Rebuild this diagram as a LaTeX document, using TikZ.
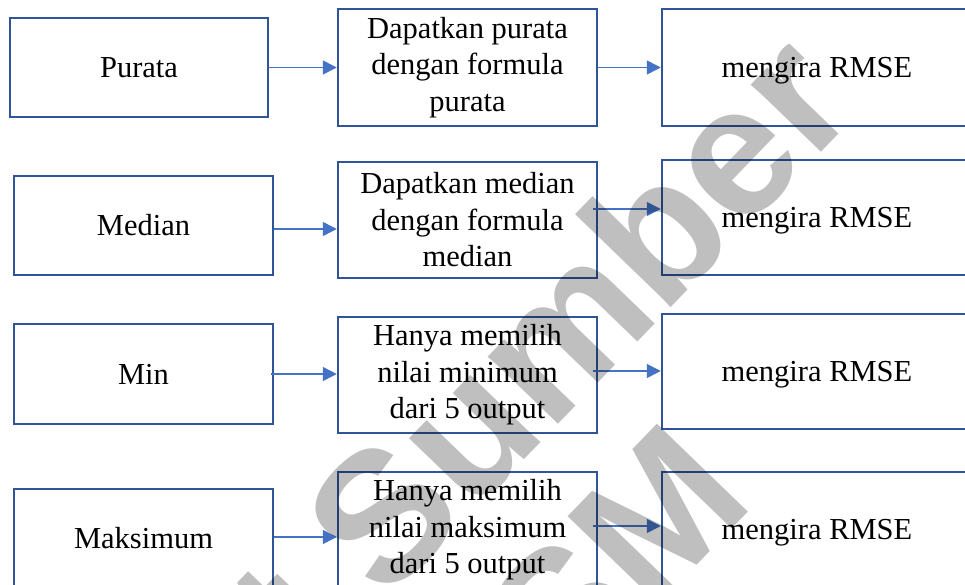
\documentclass[tikz,border=0pt]{standalone}
\usepackage{fontspec}
\setmainfont{Liberation Serif}
\newfontfamily\marksans{Liberation Sans}
\usetikzlibrary{arrows.meta}
\definecolor{boxblue}{RGB}{47,85,151}
\definecolor{arrowblue}{RGB}{68,114,196}

\begin{document}
\begin{tikzpicture}[x=1pt,y=-1pt,
  box/.style={draw=boxblue, line width=2.5pt, inner sep=0pt, align=center,
    font=\fontsize{30.5}{36.5}\selectfont, text=black},
  leftbox/.style={box, minimum width=259, minimum height=99},
  midbox/.style={box, minimum width=259, minimum height=116},
  rmsebox/.style={box, minimum width=310, minimum height=115, text depth=0pt},
  arr/.style={draw=arrowblue, line width=1.5pt, -{Triangle[length=14pt,width=14pt]}},
  wm/.style={font=\marksans\bfseries\fontsize{184}{184}\selectfont, text=black,
    text opacity=0.25, rotate=46, inner sep=0pt}
]
\useasboundingbox (0,0) rectangle (965,585);
\begin{scope}
\clip (0,0) rectangle (965,585);
\fill[white] (0,0) rectangle (965,585);

% row 1
\node[leftbox, minimum width=258] (p1) at (139,67.5) {Purata};
\node[midbox, minimum height=117] (m1) at (467.5,67.5) {Dapatkan purata\\dengan formula\\purata};
\node[rmsebox, minimum height=117] (r1) at (817,67.5) {mengira RMSE};

% row 2
\node[leftbox] (p2) at (143.5,225.5) {Median};
\node[midbox] (m2) at (467.5,220) {Dapatkan median\\dengan formula\\median};
\node[rmsebox] (r2) at (817,217.5) {mengira RMSE};

% row 3
\node[leftbox, minimum height=100] (p3) at (143.5,374) {Min};
\node[midbox] (m3) at (467.5,375) {Hanya memilih\\nilai minimum\\dari 5 output};
\node[rmsebox] (r3) at (817,371.5) {mengira RMSE};

% row 4
\node[leftbox] (p4) at (143.5,538.5) {Maksimum};
\node[midbox] (m4) at (467.5,530) {Hanya memilih\\nilai maksimum\\dari 5 output};
\node[rmsebox] (r4) at (817,529.5) {mengira RMSE};

% connectors
\draw[arr] (p1.east) -- (m1.west);
\draw[arr] (m1.east) -- (r1.west);
\draw[arr] (p2.east |- 0,229) -- (m2.west |- 0,229);
\draw[arr] (m2.east |- 0,209) ++(-5,0) -- (r2.west |- 0,209);
\draw[arr] (p3.east |- 0,374) ++(-3,0) -- (m3.west |- 0,374);
\draw[arr] (m3.east |- 0,371) ++(-5,0) -- (r3.west |- 0,371);
\draw[arr] (p4.east |- 0,537) -- (m4.west |- 0,537);
\draw[arr] (m4.east |- 0,526) ++(-5,0) -- (r4.west |- 0,526);

% watermark
\node[wm, anchor=base east] (wm1) at (862,110) {t Sumber};
\node[wm, anchor=base east] (wm2) at (757,503) {USM};
\end{scope}
\end{tikzpicture}
\end{document}
